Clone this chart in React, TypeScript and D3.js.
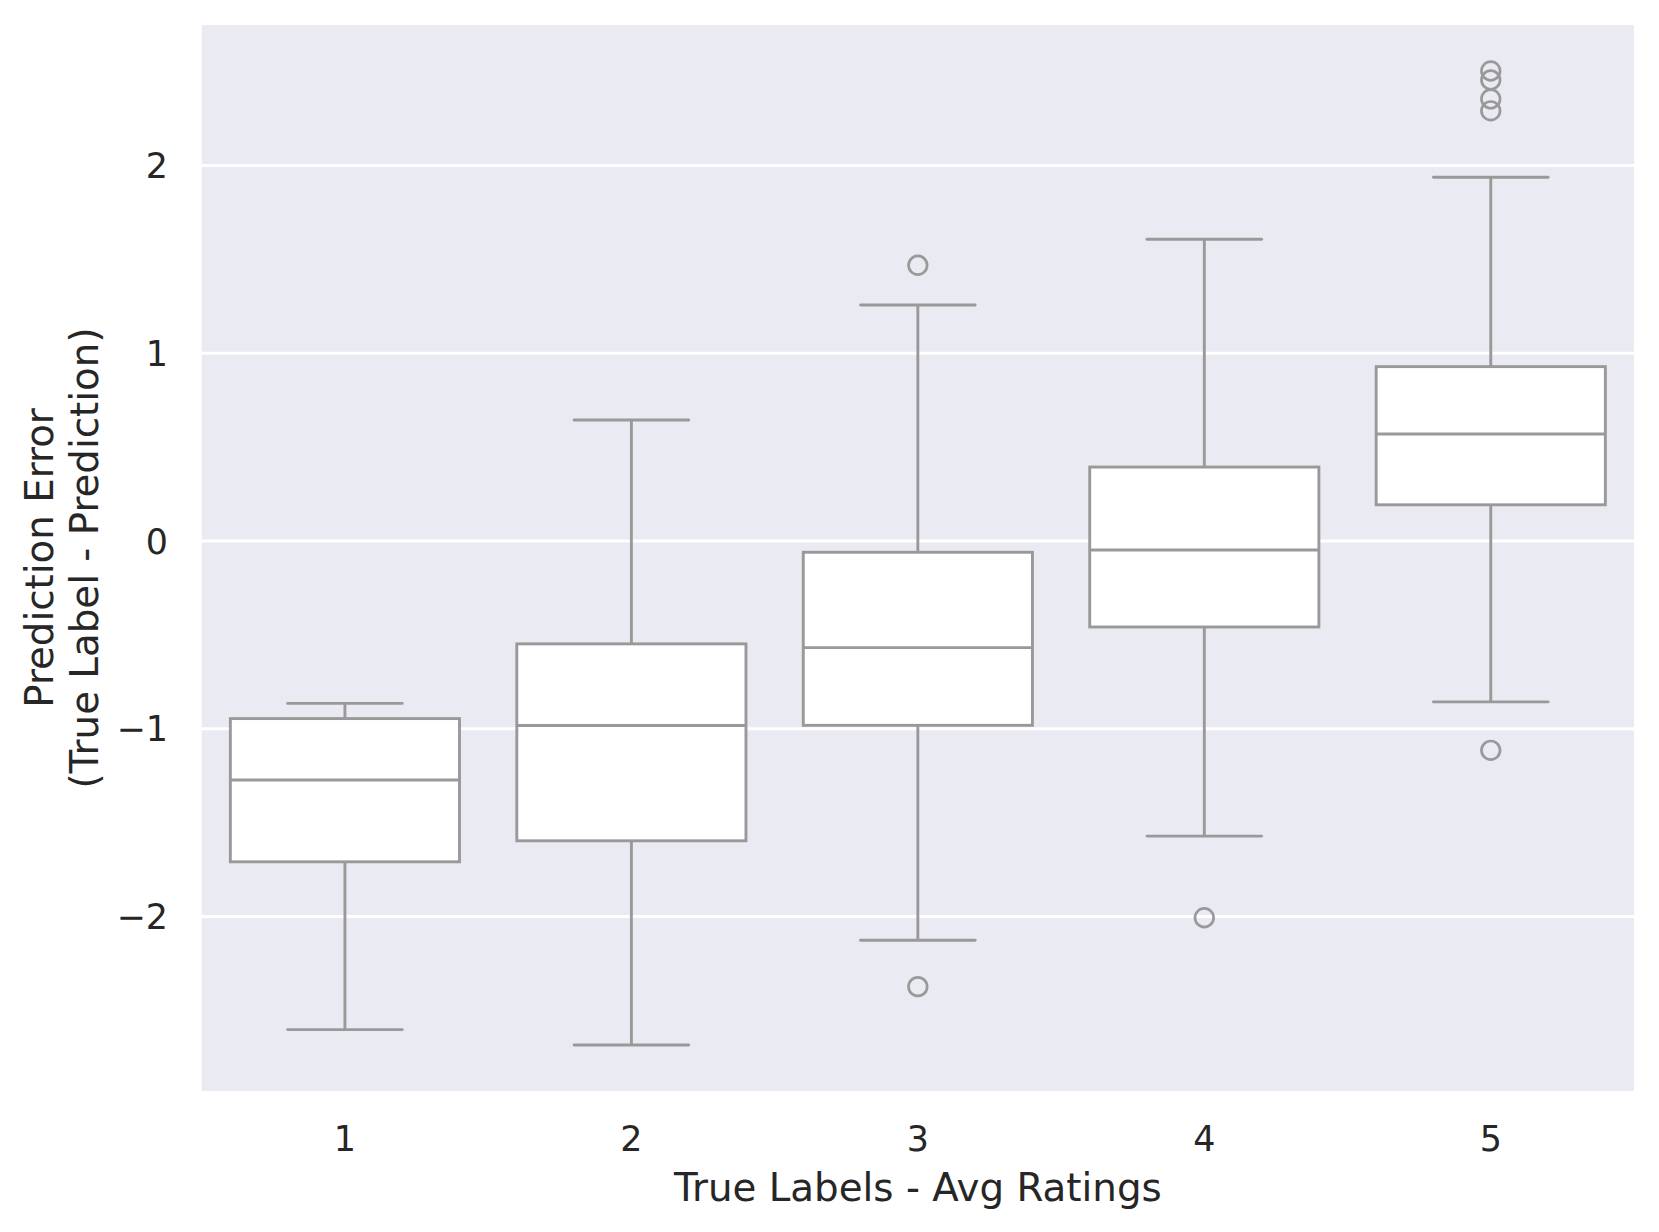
import React from "react";
import * as d3 from "d3";

const categories = ["1", "2", "3", "4", "5"];
const whiskerLow = [-2.603, -2.685, -2.127, -1.572, -0.857];
const q1Values = [-1.709, -1.597, -0.982, -0.458, 0.193];
const medians = [-1.273, -0.983, -0.568, -0.048, 0.57];
const q3Values = [-0.946, -0.548, -0.06, 0.394, 0.929];
const whiskerHigh = [-0.865, 0.645, 1.257, 1.608, 1.938];
const outliers: number[][] = [
  [],
  [],
  [1.469, -2.374],
  [-2.007],
  [2.504, 2.456, 2.355, 2.292, -1.115],
];
const yTicks = [-2, -1, 0, 1, 2];

const W = 1659;
const H = 1232;
const plotLeft = 201.7;
const plotRight = 1634;
const plotTop = 25;
const plotBottom = 1091;

const FONT = "'DejaVu Sans', sans-serif";
const TEXT = "#262626";
const LINE = "#999999";
const BG = "#EAEAF2";

export default function App() {
  const x = d3
    .scaleBand<string>()
    .domain(categories)
    .range([plotLeft, plotRight])
    .paddingInner(0)
    .paddingOuter(0);
  const y = d3.scaleLinear().domain([-2.93, 2.749]).range([plotBottom, plotTop]);
  const bw = x.bandwidth();
  const boxW = bw * 0.8;
  const capW = boxW * 0.5;
  const lw = 2.9;
  const fmt = (v: number) => (v < 0 ? "\u2212" + Math.abs(v) : String(v));
  const midY = (plotTop + plotBottom) / 2;

  return (
    <div style={{ position: "absolute", left: 0, top: 0 }}>
      <svg width={W} height={H} xmlns="http://www.w3.org/2000/svg" style={{ display: "block" }}>
        <rect x={0} y={0} width={W} height={H} fill="white" />
        <rect
          x={plotLeft}
          y={plotTop}
          width={plotRight - plotLeft}
          height={plotBottom - plotTop}
          fill={BG}
        />
        {yTicks.map((t) => (
          <line
            key={"g" + t}
            x1={plotLeft}
            x2={plotRight}
            y1={y(t)}
            y2={y(t)}
            stroke="white"
            strokeWidth={3}
          />
        ))}
        {categories.map((c, i) => {
          const cx = (x(c) as number) + bw / 2;
          return (
            <g key={"b" + c} fill="none" stroke={LINE} strokeWidth={lw}>
              <line x1={cx} x2={cx} y1={y(q3Values[i])} y2={y(whiskerHigh[i])} />
              <line x1={cx} x2={cx} y1={y(q1Values[i])} y2={y(whiskerLow[i])} />
              <line
                x1={cx - capW / 2}
                x2={cx + capW / 2}
                y1={y(whiskerHigh[i])}
                y2={y(whiskerHigh[i])}
                strokeLinecap="round"
              />
              <line
                x1={cx - capW / 2}
                x2={cx + capW / 2}
                y1={y(whiskerLow[i])}
                y2={y(whiskerLow[i])}
                strokeLinecap="round"
              />
              <rect
                x={cx - boxW / 2}
                y={y(q3Values[i])}
                width={boxW}
                height={y(q1Values[i]) - y(q3Values[i])}
                fill="white"
              />
              <line
                x1={cx - boxW / 2}
                x2={cx + boxW / 2}
                y1={y(medians[i])}
                y2={y(medians[i])}
              />
              {outliers[i].map((o, j) => (
                <circle key={j} cx={cx} cy={y(o)} r={9.3} strokeWidth={2.7} />
              ))}
            </g>
          );
        })}
        {yTicks.map((t) => (
          <text
            key={"yt" + t}
            x={168}
            y={y(t)}
            dy="0.36em"
            textAnchor="end"
            fontFamily={FONT}
            fontSize={34.9}
            fill={TEXT}
          >
            {fmt(t)}
          </text>
        ))}
        {categories.map((c) => (
          <text
            key={"xt" + c}
            x={(x(c) as number) + bw / 2}
            y={1151}
            textAnchor="middle"
            fontFamily={FONT}
            fontSize={34.9}
            fill={TEXT}
          >
            {c}
          </text>
        ))}
        <text
          x={(plotLeft + plotRight) / 2}
          y={1201}
          textAnchor="middle"
          fontFamily={FONT}
          fontSize={38.8}
          fill={TEXT}
        >
          True Labels - Avg Ratings
        </text>
        <text
          transform={`translate(53,${midY}) rotate(-90)`}
          textAnchor="middle"
          fontFamily={FONT}
          fontSize={38.8}
          fill={TEXT}
        >
          Prediction Error
        </text>
        <text
          transform={`translate(97.5,${midY}) rotate(-90)`}
          textAnchor="middle"
          fontFamily={FONT}
          fontSize={38.8}
          fill={TEXT}
        >
          (True Label - Prediction)
        </text>
      </svg>
    </div>
  );
}
